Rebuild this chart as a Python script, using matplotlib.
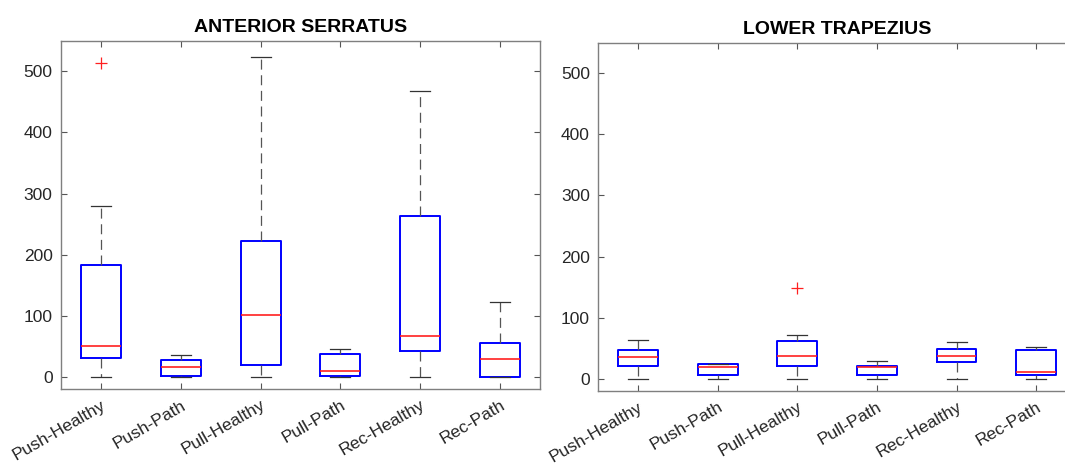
import matplotlib
matplotlib.use("Agg")
import matplotlib.pyplot as plt

plt.rcParams["font.family"] = ["Liberation Sans", "DejaVu Sans"]

categories = ["Push-Healthy", "Push-Path", "Pull-Healthy", "Pull-Path", "Rec-Healthy", "Rec-Path"]
y_ticks = [0, 100, 200, 300, 400, 500]

# Anterior serratus: whisker low, Q1, median, Q3, whisker high, outliers
serratus_whislo = [0, 0, 0, 0, 0, 0]
serratus_q1 = [30.6, 1, 19.2, 1, 42.5, 0.5]
serratus_med = [50.7, 17, 100.7, 10, 67, 29]
serratus_q3 = [182.7, 28, 222, 37.7, 262.6, 56]
serratus_whishi = [280.5, 35.5, 524, 46.4, 468, 123]
serratus_fliers = [[514], [], [], [], [], []]

# Lower trapezius
trapezius_whislo = [0, 0, 0, 0, 0, 0]
trapezius_q1 = [20.6, 5.4, 20.6, 6.5, 27, 5.4]
trapezius_med = [35.9, 19, 38, 19, 38, 10.8]
trapezius_q3 = [47.9, 25, 61.5, 21.7, 49, 47.4]
trapezius_whishi = [63, 25, 71, 29.9, 60.4, 52.8]
trapezius_fliers = [[], [], [149], [], [], []]


def build_stats(lo, q1, med, q3, hi, fliers):
    return [
        dict(label=c, whislo=a, q1=b, med=m, q3=d, whishi=e, fliers=f)
        for c, a, b, m, d, e, f in zip(categories, lo, q1, med, q3, hi, fliers)
    ]


fig = plt.figure(figsize=(10.65, 4.63), dpi=100)
W, H = 1065, 463


def px_axes(left, top, right, bottom):
    return fig.add_axes([left / W, 1 - bottom / H, (right - left) / W, (bottom - top) / H])


ax1 = px_axes(61, 40.7, 540, 389.3)
ax2 = px_axes(598.3, 42.7, 1076, 391)

panels = [
    (ax1, "ANTERIOR SERRATUS",
     build_stats(serratus_whislo, serratus_q1, serratus_med, serratus_q3, serratus_whishi, serratus_fliers)),
    (ax2, "LOWER TRAPEZIUS",
     build_stats(trapezius_whislo, trapezius_q1, trapezius_med, trapezius_q3, trapezius_whishi, trapezius_fliers)),
]

for ax, title, stats in panels:
    ax.bxp(
        stats,
        positions=range(1, len(categories) + 1),
        widths=0.5,
        showfliers=True,
        boxprops=dict(color="#0000ff", linewidth=1.4),
        medianprops=dict(color="#ff2020", linewidth=1.2),
        whiskerprops=dict(color="#555555", linewidth=0.9, linestyle=(0, (8, 4.5))),
        capprops=dict(color="#333333", linewidth=0.9),
        flierprops=dict(marker="+", markeredgecolor="#ff2020", markersize=8, markeredgewidth=0.9),
        capwidths=0.25,
    )
    ax.set_xlim(0.5, 6.5)
    ax.set_ylim(-20, 550)
    ax.set_yticks(y_ticks)
    ax.set_xticks(range(1, len(categories) + 1))
    ax.set_xticklabels(categories, rotation=30, ha="right", va="top", rotation_mode="anchor")
    ax.tick_params(direction="in", length=4, width=0.8, color="#555555",
                   top=True, right=True, labelsize=12.5, labelcolor="#262626", pad=6)
    ax.tick_params(axis="x", pad=6)
    for s in ax.spines.values():
        s.set_color("#7f7f7f")
        s.set_linewidth(1.0)
    ax.set_title(title, fontsize=14, fontweight="bold", color="black", pad=6)

fig.savefig("out.png", dpi=100)
